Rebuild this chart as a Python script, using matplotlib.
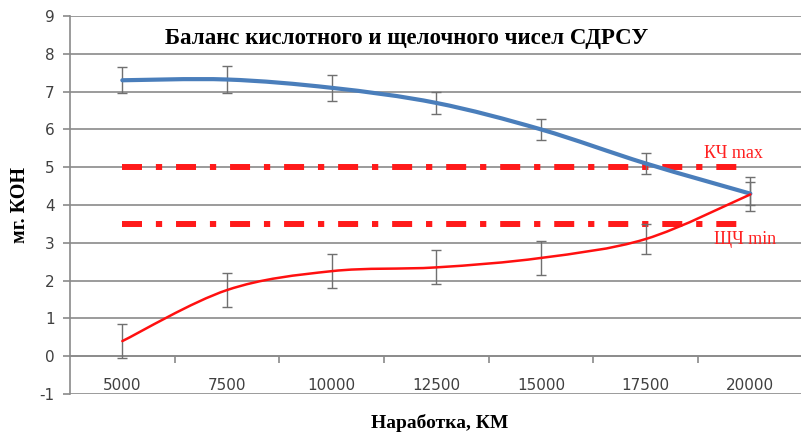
import matplotlib.pyplot as plt
import numpy as np
from matplotlib.path import Path
from matplotlib.patches import PathPatch

plt.rcParams['lines.scale_dashes'] = False
plt.rcParams['axes.unicode_minus'] = False

# наработка, км
probeg = ['5000', '7500', '10000', '12500', '15000', '17500', '20000']
# кислотное и щелочное числа, мг КОН
kch = [7.3, 7.32, 7.1, 6.7, 6.0, 5.1, 4.3]
kch_err = [0.35, 0.37, 0.35, 0.3, 0.27, 0.28, 0.3]
shch = [0.4, 1.75, 2.25, 2.35, 2.6, 3.1, 4.28]
shch_err = [0.45, 0.45, 0.45, 0.45, 0.45, 0.4, 0.45]
# предельные значения
kch_max = 5.0
shch_min = 3.5

serif = ['Liberation Serif', 'DejaVu Serif']
grid_c = '#8a8a8a'


def smooth_path(x, y):
    # кривая Безье через точки (сглаженная линия как в Excel)
    x = np.asarray(x, float)
    y = np.asarray(y, float)
    verts = [(x[0], y[0])]
    codes = [Path.MOVETO]
    n = len(x)
    for i in range(n - 1):
        p0 = np.array([x[max(i - 1, 0)], y[max(i - 1, 0)]])
        p1 = np.array([x[i], y[i]])
        p2 = np.array([x[i + 1], y[i + 1]])
        p3 = np.array([x[min(i + 2, n - 1)], y[min(i + 2, n - 1)]])
        c1 = p1 + (p2 - p0) / 6
        c2 = p2 - (p3 - p1) / 6
        verts += [tuple(c1), tuple(c2), tuple(p2)]
        codes += [Path.CURVE4] * 3
    return Path(verts, codes)


fig = plt.figure(figsize=(8.01, 4.36), dpi=100)
ax = fig.add_axes([0.0874, 0.0963, 0.9147, 0.867])
x = np.arange(len(probeg))

ax.set_xlim(-0.5, 6.5)
ax.set_ylim(-1, 9)

# сетка
ax.set_yticks(range(-1, 10))
ax.grid(axis='y', color=grid_c, linewidth=1.2)
for g in ax.get_ygridlines():
    if g.get_ydata()[0] in (9, -1):
        g.set_visible(False)
ax.set_axisbelow(True)

# предельные линии
dash = (0, (14.4, 10, 4.5, 10))
ax.plot(x, [kch_max] * len(x), color='#ff1a1a', linewidth=4.3, linestyle=dash,
        dash_capstyle='butt', zorder=2)
ax.plot(x, [shch_min] * len(x), color='#ff1a1a', linewidth=4.3, linestyle=dash,
        dash_capstyle='butt', zorder=2)

# погрешности
ax.errorbar(x, kch, yerr=kch_err, fmt='none', ecolor='#707070', elinewidth=1,
            capsize=3.5, capthick=1, zorder=3)
ax.errorbar(x, shch, yerr=shch_err, fmt='none', ecolor='#707070', elinewidth=1,
            capsize=3.5, capthick=1, zorder=3)

# кривые
ax.add_patch(PathPatch(smooth_path(x, kch), facecolor='none', edgecolor='#4a7ebb',
                       linewidth=3, zorder=4, capstyle='round'))
ax.add_patch(PathPatch(smooth_path(x, shch), facecolor='none', edgecolor='#ff1010',
                       linewidth=1.8, zorder=5, capstyle='round'))

# подписи предельных значений
ax.text(5.84, 5.35, 'КЧ max', color='#ff2020', fontsize=13, family=serif,
        ha='center', va='center')
ax.text(5.95, 3.1, 'ЩЧ min', color='#ff2020', fontsize=13, family=serif,
        ha='center', va='center')

# оси
for s in ('top', 'right'):
    ax.spines[s].set_visible(False)
ax.spines['left'].set_color(grid_c)
ax.spines['left'].set_linewidth(1.2)
ax.spines['bottom'].set_position(('data', 0))
ax.spines['bottom'].set_color(grid_c)
ax.spines['bottom'].set_linewidth(1.2)

ax.set_xticks(x)
ax.set_xticklabels(probeg)
ax.set_xticks(np.arange(0.5, 6.5, 1), minor=True)
ax.tick_params(axis='x', which='major', length=0, pad=16, labelsize=11,
               labelcolor='#404040')
ax.tick_params(axis='x', which='minor', length=5, color=grid_c, width=1.2)
ax.tick_params(axis='y', length=5, color=grid_c, width=1.2, pad=6,
               labelsize=11, labelcolor='#404040')

fig.text(0.508, 0.912, 'Баланс кислотного и щелочного чисел СДРСУ',
         family=serif, fontsize=16.5, fontweight='bold', ha='center', va='center')
fig.text(0.549, 0.03, 'Наработка, КМ', family=serif, fontsize=14,
         fontweight='bold', ha='center', va='center')
fig.text(0.025, 0.53, 'мг. КОН', family=serif, fontsize=14.5, fontweight='bold',
         ha='center', va='center', rotation=90)

fig.savefig('out.png', dpi=100)
